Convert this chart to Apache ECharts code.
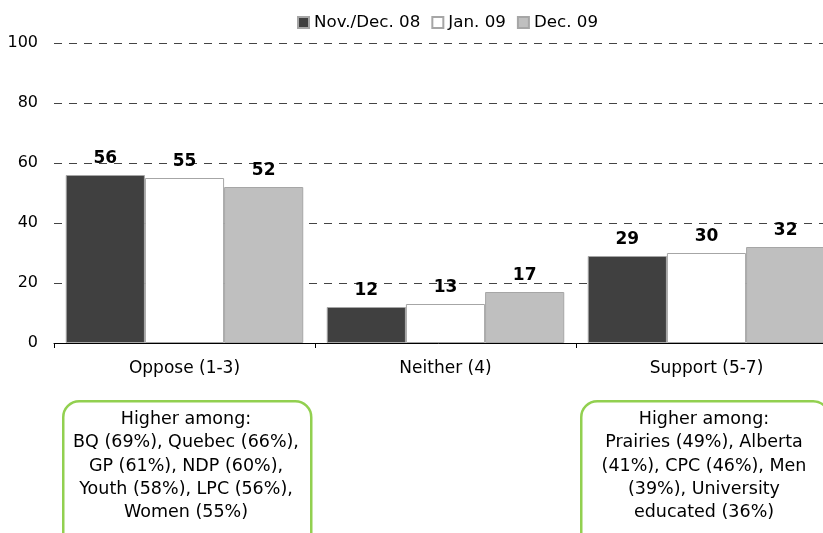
<!DOCTYPE html>
<html><head><meta charset="utf-8">
<script src="https://cdn.jsdelivr.net/npm/echarts@6/dist/echarts.min.js"></script>
<style>html,body{margin:0;padding:0;background:#fff}#c{width:823px;height:533px}</style>
</head><body><div id="c"></div>
<script>
var categories = ['Oppose (1-3)', 'Neither (4)', 'Support (5-7)'];
var seriesNames = ['Nov./Dec. 08', 'Jan. 09', 'Dec. 09'];
var novDec08 = [56, 12, 29];
var jan09 = [55, 13, 30];
var dec09 = [52, 17, 32];
var yTicks = [0, 20, 40, 60, 80, 100];
var opposeNote = 'Higher among:\nBQ (69%), Quebec (66%),\nGP (61%), NDP (60%),\nYouth (58%), LPC (56%),\nWomen (55%)';
var supportNote = 'Higher among:\nPrairies (49%), Alberta\n(41%), CPC (46%), Men\n(39%), University\neducated (36%)';

var FONT = 'DejaVu Sans';
var colors = ['#404040', '#ffffff', '#bfbfbf'];
var dataSets = [novDec08, jan09, dec09];
var chart = echarts.init(document.getElementById('c'));
chart.setOption({
  animation: false,
  textStyle: {fontFamily: FONT},
  legend: {
    top: 9, left: 292, itemWidth: 11, itemHeight: 11, itemGap: 11,
    icon: 'rect',
    textStyle: {fontFamily: FONT, fontSize: 16.7, color: '#000'},
    data: seriesNames
  },
  grid: {left: 54, width: 783, top: 43, height: 300, containLabel: false, outerBoundsMode: 'none'},
  xAxis: {
    type: 'category', data: categories,
    axisLine: {lineStyle: {color: '#000', width: 1}},
    axisTick: {show: true, length: 5, lineStyle: {color: '#000'}},
    axisLabel: {fontFamily: FONT, fontSize: 17, color: '#000', margin: 17}
  },
  yAxis: {
    type: 'value', min: 0, max: 100, interval: 20,
    axisLine: {show: false}, axisTick: {show: false},
    axisLabel: {fontFamily: FONT, fontSize: 16, color: '#000', margin: 16,
      formatter: function(v){ return yTicks.indexOf(v) >= 0 ? String(v) : ''; }},
    splitLine: {lineStyle: {color: '#444', type: [8, 7], width: 1}}
  },
  series: seriesNames.map(function(n, i){
    return {
      name: n, type: 'bar', data: dataSets[i],
      barGap: '0%', barCategoryGap: '9%',
      itemStyle: {color: colors[i], borderColor: '#a6a6a6', borderWidth: 1},
      label: {show: true, position: 'top', distance: 8, fontFamily: FONT, fontSize: 17, fontWeight: 'bold', color: '#000'}
    };
  }),
  graphic: [
    {type: 'rect', left: 62, top: 400, shape: {width: 248, height: 150, r: 16},
      style: {fill: '#fff', stroke: '#92d050', lineWidth: 2.5}},
    {type: 'text', x: 186, y: 408, style: {text: opposeNote, fontFamily: FONT, fontSize: 17.5, lineHeight: 23.2, fill: '#000', align: 'center', verticalAlign: 'top'}},
    {type: 'rect', left: 580, top: 400, shape: {width: 248, height: 150, r: 16},
      style: {fill: '#fff', stroke: '#92d050', lineWidth: 2.5}},
    {type: 'text', x: 704, y: 408, style: {text: supportNote, fontFamily: FONT, fontSize: 17.5, lineHeight: 23.2, fill: '#000', align: 'center', verticalAlign: 'top'}}
  ]
});
</script></body></html>
